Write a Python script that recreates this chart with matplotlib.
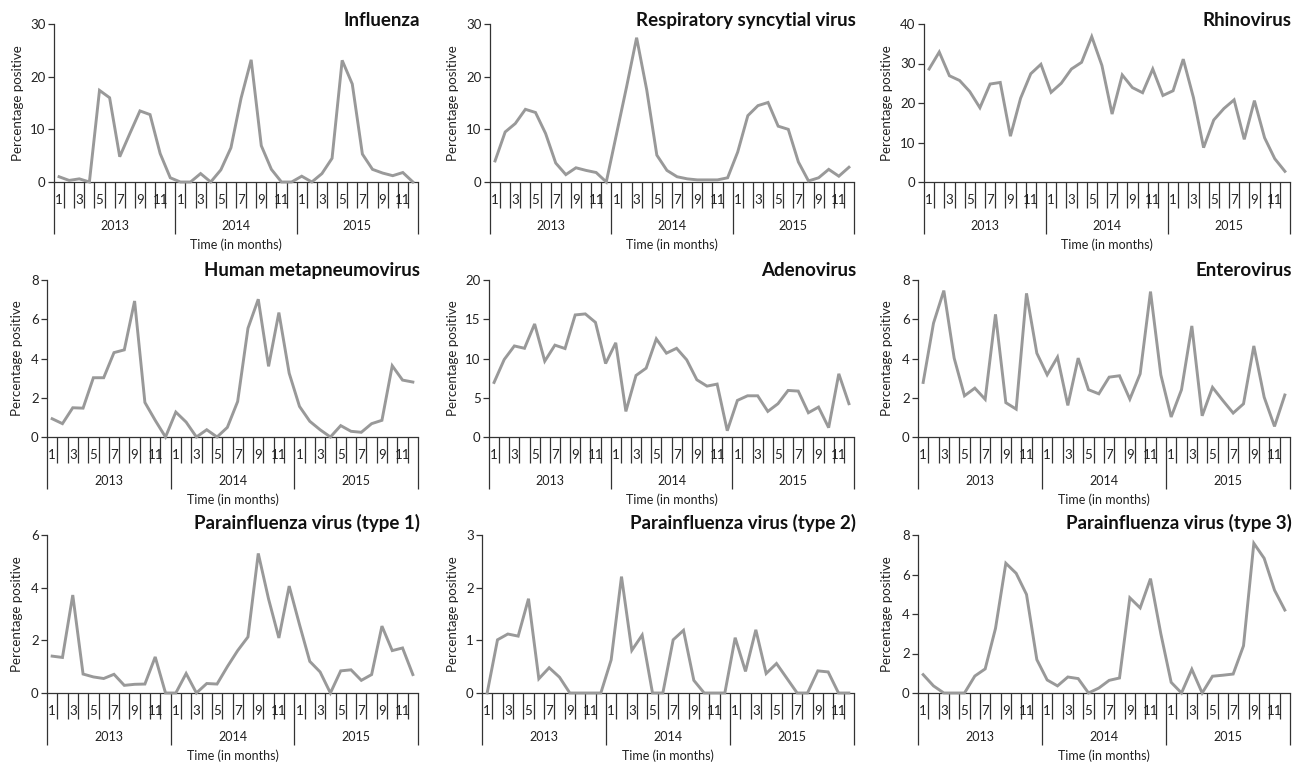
import numpy as np
import matplotlib
matplotlib.use("Agg")
import matplotlib.pyplot as plt

plt.rcParams['font.family'] = ['Lato', 'DejaVu Sans']

years = ["2013", "2014", "2015"]
month_labels = ["1", "", "3", "", "5", "", "7", "", "9", "", "11", ""]

influenza = [1.0, 0.3, 0.6, 0.0, 17.4, 16.0, 4.8, 9.2, 13.5, 12.8, 5.4, 0.8,
             0.0, 0.0, 1.6, 0.0, 2.3, 6.5, 15.9, 23.2, 6.9, 2.4, 0.0, 0.0,
             1.1, 0.0, 1.6, 4.5, 23.1, 18.6, 5.3, 2.4, 1.7, 1.2, 1.8, 0.0]
rsv = [4.0, 9.5, 11.1, 13.8, 13.2, 9.2, 3.6, 1.4, 2.7, 2.2, 1.8, 0.0,
       9.0, 18.0, 27.4, 17.5, 5.1, 2.2, 1.0, 0.6, 0.4, 0.4, 0.4, 0.8,
       5.7, 12.6, 14.5, 15.1, 10.6, 10.0, 3.8, 0.2, 0.8, 2.4, 1.1, 2.8]
rhinovirus = [28.6, 32.9, 26.9, 25.7, 22.9, 18.8, 24.8, 25.2, 11.6, 21.2, 27.4, 29.8,
              22.7, 25.0, 28.6, 30.3, 36.8, 29.5, 17.2, 27.1, 23.9, 22.6, 28.6, 21.9,
              23.1, 31.1, 21.4, 8.7, 15.7, 18.6, 20.8, 10.8, 20.6, 11.2, 5.9, 2.7]
hmpv = [0.93, 0.68, 1.49, 1.47, 3.02, 3.02, 4.3, 4.44, 6.93, 1.76, 0.85, 0.0,
        1.27, 0.76, 0.0, 0.37, 0.0, 0.49, 1.81, 5.54, 7.02, 3.6, 6.34, 3.25,
        1.56, 0.8, 0.37, 0.0, 0.58, 0.29, 0.24, 0.68, 0.85, 3.63, 2.9, 2.8]
adenovirus = [6.95, 9.87, 11.6, 11.3, 14.4, 9.66, 11.7, 11.27, 15.55, 15.68, 14.6, 9.36,
              12.0, 3.26, 7.84, 8.77, 12.5, 10.68, 11.3, 9.83, 7.29, 6.48, 6.74, 0.8,
              4.66, 5.25, 5.25, 3.26, 4.24, 5.93, 5.85, 3.09, 3.81, 1.19, 8.05, 4.24]
enterovirus = [2.78, 5.8, 7.46, 4.02, 2.1, 2.49, 1.92, 6.25, 1.75, 1.42, 7.32, 4.27,
               3.17, 4.07, 1.61, 4.02, 2.41, 2.2, 3.05, 3.12, 1.93, 3.22, 7.41, 3.17,
               1.02, 2.41, 5.66, 1.08, 2.53, 1.86, 1.22, 1.69, 4.64, 2.03, 0.54, 2.14]
piv1 = [1.4, 1.35, 3.72, 0.72, 0.61, 0.55, 0.71, 0.29, 0.33, 0.34, 1.37, 0.0,
        0.0, 0.74, 0.0, 0.36, 0.34, 1.0, 1.61, 2.13, 5.3, 3.57, 2.09, 4.06,
        2.6, 1.2, 0.8, 0.0, 0.84, 0.88, 0.48, 0.7, 2.54, 1.61, 1.71, 0.7]
piv2 = [0.0, 1.01, 1.12, 1.08, 1.79, 0.27, 0.48, 0.3, 0.0, 0.0, 0.0, 0.0,
        0.63, 2.21, 0.81, 1.1, 0.0, 0.0, 1.01, 1.19, 0.24, 0.0, 0.0, 0.0,
        1.05, 0.41, 1.2, 0.37, 0.56, 0.28, 0.0, 0.0, 0.42, 0.4, 0.0, 0.0]
piv3 = [0.93, 0.36, 0.0, 0.0, 0.0, 0.86, 1.22, 3.27, 6.57, 6.06, 4.99, 1.69,
        0.66, 0.36, 0.81, 0.73, 0.0, 0.25, 0.64, 0.76, 4.82, 4.31, 5.79, 3.0,
        0.54, 0.0, 1.2, 0.0, 0.85, 0.9, 0.96, 2.39, 7.58, 6.82, 5.21, 4.2]

titles = ["Influenza", "Respiratory syncytial virus", "Rhinovirus",
          "Human metapneumovirus", "Adenovirus", "Enterovirus",
          "Parainfluenza virus (type 1)", "Parainfluenza virus (type 2)",
          "Parainfluenza virus (type 3)"]
series = [influenza, rsv, rhinovirus, hmpv, adenovirus, enterovirus, piv1, piv2, piv3]
ymax = [30, 30, 40, 8, 20, 8, 6, 3, 8]
ystep = [10, 10, 10, 2, 5, 2, 2, 1, 2]

W, H = 1307, 763
fig = plt.figure(figsize=(W / 100, H / 100), dpi=100)

# axes boxes in pixels: (left, top, right, bottom)
boxes = [(54, 24, 418, 182), (490, 24, 854, 182), (924, 24, 1290, 182),
         (47, 280, 418, 437), (489, 280, 854, 437), (918, 280, 1290, 437),
         (47, 535, 418, 693), (482, 535, 854, 693), (918, 535, 1290, 693)]
title_raise = [-2, -2, -2, 4, 4, 4, 6, 6, 6]
ylabel_x = [18, 453, 887, 17, 453, 887, 17, 453, 887]

axis_color = "#333333"
line_color = "#999999"
px = 0.72  # points per pixel

n = 36
for i, (ttl, vals) in enumerate(zip(titles, series)):
    l, t, r, b = boxes[i]
    ax = fig.add_axes([l / W, 1 - b / H, (r - l) / W, (b - t) / H])
    x = np.arange(n) + 0.5
    ax.plot(x, vals, color=line_color, lw=2.1, solid_joinstyle='miter', clip_on=False, zorder=3)
    ax.set_xlim(0, n)
    ax.set_ylim(0, ymax[i])
    ax.set_yticks(np.arange(0, ymax[i] + ystep[i] / 2, ystep[i]))
    for s in ["top", "right"]:
        ax.spines[s].set_visible(False)
    for s in ["left", "bottom"]:
        ax.spines[s].set_color(axis_color)
        ax.spines[s].set_linewidth(0.9)
    ax.tick_params(axis='y', direction='out', length=4, width=0.9, color=axis_color,
                   labelsize=9.5, pad=2, labelcolor="#222222")
    # x: long ticks at year boundaries, short at month boundaries
    ax.set_xticks([0, 12, 24, 36])
    ax.set_xticks(np.arange(0, n + 1), minor=True)
    ax.tick_params(axis='x', which='major', direction='out', length=52 * px, width=0.9,
                   color=axis_color, labelbottom=False)
    ax.tick_params(axis='x', which='minor', direction='out', length=26 * px, width=0.9,
                   color=axis_color, labelbottom=False)
    for k in range(n):
        lab = month_labels[k % 12]
        if lab:
            ax.annotate(lab, xy=(k + 0.5, 0), xycoords=('data', 'axes fraction'),
                        xytext=(0, -18 * px), textcoords='offset points',
                        ha='center', va='center', fontsize=9.5, color="#222222")
    for yi, yr in enumerate(years):
        ax.annotate(yr, xy=(yi * 12 + 6, 0), xycoords=('data', 'axes fraction'),
                    xytext=(0, -44 * px), textcoords='offset points',
                    ha='center', va='center', fontsize=9, color="#222222")
    ax.annotate("Time (in months)", xy=(0.5, 0), xycoords='axes fraction',
                xytext=(0, -63 * px), textcoords='offset points',
                ha='center', va='center', fontsize=9, color="#222222")
    ax.set_ylabel("Percentage positive", fontsize=9.6, color="#222222")
    ax.yaxis.label.set_va('center')
    ax.yaxis.set_label_coords((ylabel_x[i] - l) / (r - l), 0.5)
    ax.annotate(ttl, xy=(1, 1), xycoords='axes fraction',
                xytext=(2 * px, title_raise[i] * px), textcoords='offset points',
                ha='right', va='baseline', fontsize=13.5, fontweight='bold', color="#111111")

fig.savefig("out.png", dpi=100)
